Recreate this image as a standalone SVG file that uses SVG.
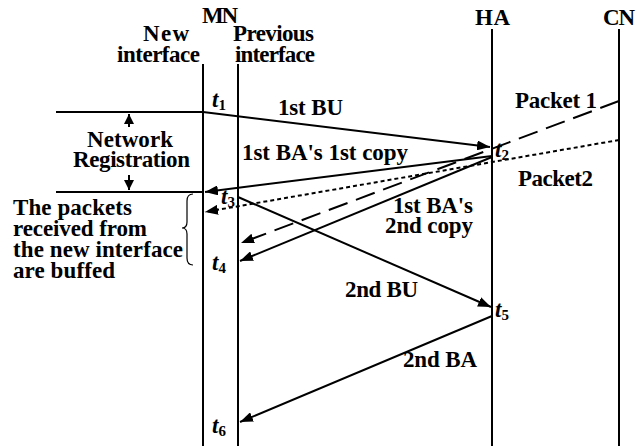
<svg xmlns="http://www.w3.org/2000/svg" width="637" height="446" viewBox="0 0 637 446">
<style>
text{font-family:"Liberation Serif","Times New Roman",serif;font-weight:bold;font-size:23px;fill:#000}
.ln{stroke:#000;stroke-width:2;fill:none}
.dash{stroke-dasharray:20 9}
.dot{stroke-dasharray:4 3}
.it{font-style:italic}
.sub{font-size:15px;font-style:normal}
</style>
<defs>
<marker id="ah" markerUnits="userSpaceOnUse" markerWidth="14" markerHeight="10" refX="13" refY="5" orient="auto">
<path d="M0,0 L13,5 L0,10 z" fill="#000"/>
</marker>
<marker id="sa" markerUnits="userSpaceOnUse" markerWidth="11" markerHeight="11" refX="10" refY="5" orient="auto">
<path d="M0,0 L10,5 L0,10 z" fill="#000"/>
</marker>
</defs>
<g id="mn-label"><text x="202" y="23" textLength="36">MN</text></g>
<g id="new-interface">
<text x="143" y="41" textLength="46">New</text>
<text x="117" y="62" textLength="83">interface</text>
<line class="ln" x1="203" y1="64" x2="203" y2="446"/>
</g>
<g id="previous-interface">
<text x="233" y="41" textLength="81">Previous</text>
<text x="235" y="62" textLength="80">interface</text>
<line class="ln" x1="238" y1="64" x2="238" y2="446"/>
</g>
<g id="ha">
<text x="475" y="25" textLength="35">HA</text>
<line class="ln" x1="492" y1="29" x2="492" y2="446"/>
</g>
<g id="cn">
<text x="603" y="25" textLength="32">CN</text>
<line class="ln" x1="619" y1="29" x2="619" y2="446"/>
</g>
<g id="network-registration">
<line class="ln" x1="56" y1="112" x2="203" y2="112"/>
<line class="ln" x1="56" y1="192" x2="203" y2="192"/>
<line class="ln" x1="129" y1="127" x2="129" y2="114" marker-end="url(#sa)"/>
<line class="ln" x1="129" y1="175" x2="129" y2="190" marker-end="url(#sa)"/>
<text x="87" y="147" textLength="86">Network</text>
<text x="73" y="167" textLength="117">Registration</text>
</g>
<g id="buffer-note">
<path d="M193,194 Q187,194 187,201 L187,222 Q187,228 182,228 Q187,228 187,234 L187,258 Q187,265 193,265" fill="none" stroke="#000" stroke-width="1.2"/>
<text x="13" y="215" textLength="119">The packets</text>
<text x="13" y="236" textLength="134">received from</text>
<text x="13" y="257" textLength="170">the new interface</text>
<text x="13" y="278" textLength="102">are buffed</text>
</g>
<g id="connectors">
<line class="ln" x1="203" y1="112" x2="490" y2="147" marker-end="url(#ah)"/>
<line class="ln" x1="492" y1="156" x2="205" y2="192" marker-end="url(#ah)"/>
<line class="ln" x1="492" y1="157" x2="240" y2="261" marker-end="url(#ah)"/>
<line class="ln dash" x1="619" y1="101" x2="241" y2="243" marker-end="url(#ah)"/>
<line class="ln dot" x1="619" y1="140" x2="205" y2="212" marker-end="url(#ah)"/>
<line class="ln" x1="238" y1="197" x2="491" y2="307" marker-end="url(#ah)"/>
<line class="ln" x1="492" y1="316" x2="240" y2="422" marker-end="url(#ah)"/>
</g>
<g id="labels">
<text x="278" y="115" textLength="65">1st BU</text>
<text x="242" y="160" textLength="166">1st BA's 1st copy</text>
<text x="515" y="108" textLength="82">Packet 1</text>
<text x="518" y="186" textLength="75">Packet2</text>
<text x="393" y="213" textLength="80">1st BA's</text>
<text x="385" y="233" textLength="88">2nd copy</text>
<text x="345" y="297" textLength="73">2nd BU</text>
<text x="403" y="367" textLength="74">2nd BA</text>
</g>
<g id="times">
<text x="212" y="107"><tspan class="it">t</tspan><tspan class="sub" dy="3">1</tspan></text>
<text x="495" y="157"><tspan class="it">t</tspan><tspan class="sub" dy="3">2</tspan></text>
<text x="221" y="204"><tspan class="it">t</tspan><tspan class="sub" dy="3">3</tspan></text>
<text x="212" y="270"><tspan class="it">t</tspan><tspan class="sub" dy="3">4</tspan></text>
<text x="495" y="317"><tspan class="it">t</tspan><tspan class="sub" dy="3">5</tspan></text>
<text x="212" y="433"><tspan class="it">t</tspan><tspan class="sub" dy="3">6</tspan></text>
</g>
</svg>
